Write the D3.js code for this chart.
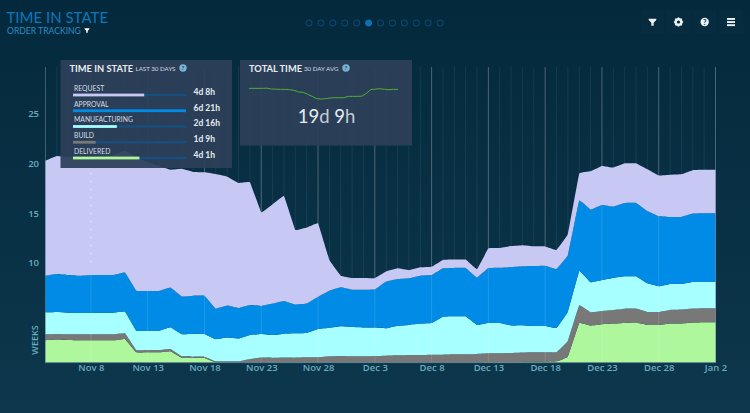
<!DOCTYPE html>
<html>
<meta charset="utf-8">
<title>Time in State</title>
<style>
  html, body { margin: 0; padding: 0; background: #05293c; overflow: hidden; }
  svg { display: block; font-family: Lato, Arial, sans-serif; }
  .axis text { fill: #6aacbf; font-size: 9.5px; font-weight: 600; font-family: "Open Sans", Arial, sans-serif; }
  .axis path, .axis line { display: none; }
</style>
<body>
<svg id="chart" width="750" height="413"></svg>
<script src="https://d3js.org/d3.v7.min.js"></script>
<script>
// values are in weeks, one per day from Nov 4 to Jan 2
var delivered = [2.21,2.28,2.24,2.21,2.21,2.21,2.21,2.35,1.0,1.0,1.0,1.11,0.44,0.44,0.44,0,0,0,0,0,0,0,0,0,0,0,0,0,0,0,0,0,0,0,0,0,0,0,0,0.03,0.03,0.03,0.04,0.05,0.05,0.10,0.57,3.95,3.69,3.82,3.89,3.95,3.99,3.75,3.75,3.89,3.89,3.99,4.02,4.02];
var build = [0.60,0.57,0.57,0.60,0.60,0.60,0.60,0.57,0.23,0.23,0.23,0.23,0.17,0.13,0.13,0.10,0.10,0.10,0.34,0.47,0.44,0.47,0.47,0.50,0.50,0.60,0.64,0.60,0.60,0.64,0.67,0.70,0.74,0.74,0.77,0.77,0.80,0.80,0.84,0.87,0.87,0.90,0.94,0.95,0.95,0.90,1.57,1.78,1.34,1.34,1.37,1.44,1.41,1.31,1.31,1.37,1.41,1.41,1.41,1.41];
var manufacturing = [2.21,2.21,2.18,2.14,2.18,2.18,2.18,2.18,1.94,1.91,1.94,2.18,2.21,2.31,2.28,2.21,2.38,2.28,2.41,2.38,2.31,2.41,2.45,2.45,2.85,2.88,2.98,2.95,2.91,2.85,2.75,2.98,3.02,3.15,3.18,3.82,3.82,3.82,2.91,3.08,3.05,2.78,2.75,2.65,2.65,2.45,2.95,3.45,3.02,3.12,3.22,3.25,3.25,2.88,2.58,2.61,2.58,2.68,2.65,2.65];
var approval = [3.69,3.82,3.79,3.75,3.79,3.79,3.79,3.92,4.02,4.02,3.99,3.99,3.79,3.82,3.85,3.08,3.22,3.08,3.02,2.81,3.15,3.28,2.88,2.95,3.25,3.72,3.92,3.75,3.79,3.82,4.69,4.69,4.69,4.82,4.82,4.86,4.86,4.86,4.76,5.49,5.56,5.86,5.93,6.03,6.06,5.93,5.66,7.07,7.30,7.54,7.17,7.37,7.37,7.27,7.04,6.73,6.73,6.87,6.90,6.90];
var request = [11.57,11.86,11.86,11.93,11.86,11.91,12.06,12.23,13.43,12.96,12.56,11.83,12.83,12.43,12.40,13.53,12.96,12.56,12.33,9.41,9.98,10.55,7.50,7.64,7.37,3.08,1.17,1.17,1.17,1.14,1.01,1.07,0.80,0.84,0.84,0.84,0.84,0.84,0.84,1.98,1.98,2.11,2.11,1.98,1.94,1.91,2.14,2.71,3.85,3.92,3.92,3.99,3.99,4.19,4.09,4.25,4.29,4.36,4.36,4.36];

var stateKeys = ["delivered", "build", "manufacturing", "approval", "request"];
var stateColors = ["#aef79c", "#787878", "#a8ffff", "#008ce6", "#c8c8f5"];

var yTicks = [10, 15, 20, 25];
var xTickLabels = ["Nov 8", "Nov 13", "Nov 18", "Nov 23", "Nov 28", "Dec 3", "Dec 8", "Dec 13", "Dec 18", "Dec 23", "Dec 28", "Jan 2"];

// legend panel
var legendNames = ["REQUEST", "APPROVAL", "MANUFACTURING", "BUILD", "DELIVERED"];
var legendHours = [104, 165, 64, 33, 97];
var legendLabels = ["4d 8h", "6d 21h", "2d 16h", "1d 9h", "4d 1h"];
var legendColors = ["#c8c8f5", "#008ce6", "#a8ffff", "#787878", "#aef79c"];

// total time, days
var totalTime = [21.0,21.0,21.0,21.0,21.04,20.85,20.81,20.78,20.78,20.7,20.55,20.18,20.1,19.65,19.2,18.68,18.6,18.68,18.83,18.9,18.9,18.9,19.2,19.2,19.2,19.24,19.88,20.74,20.81,20.93,20.78,20.7,20.78,20.78];

var pageDots = d3.range(12);
var activeDot = 5;

var svg = d3.select("#chart");

var defs = svg.append("defs");
var bg = defs.append("linearGradient").attr("id", "bg").attr("x1", 0).attr("x2", 0).attr("y1", 0).attr("y2", 1);
bg.append("stop").attr("offset", "0%").attr("stop-color", "#04293c");
bg.append("stop").attr("offset", "100%").attr("stop-color", "#0d374c");
svg.append("rect").attr("width", 750).attr("height", 413).attr("fill", "url(#bg)");

var parseDay = d3.timeParse("%Y %b %-d");
var firstDay = parseDay("2015 Nov 4");
var days = delivered.map(function(d, i) { return d3.timeDay.offset(firstDay, i); });
var tickDays = xTickLabels.map(function(d) {
  return parseDay((d.indexOf("Jan") == 0 ? "2016 " : "2015 ") + d);
});

var x = d3.scaleTime().domain([firstDay, days[days.length - 1]]).range([45.5, 715.5]);
var y = d3.scaleLinear().domain([0, 30]).range([362.3, 63.8]);

var rows = days.map(function(d, i) {
  return {
    day: d,
    delivered: delivered[i],
    build: build[i],
    manufacturing: manufacturing[i],
    approval: approval[i],
    request: request[i]
  };
});

var stack = d3.stack().keys(stateKeys);
var area = d3.area()
    .x(function(d) { return x(d.data.day); })
    .y0(function(d) { return y(d[0]); })
    .y1(function(d) { return y(d[1]); })
    .curve(d3.curveCardinal.tension(0.85));

// grid behind the areas
var grid = svg.append("g");
grid.selectAll("line.minor")
    .data(days)
  .enter().append("line")
    .attr("class", "minor")
    .attr("x1", function(d) { return x(d); })
    .attr("x2", function(d) { return x(d); })
    .attr("y1", 67)
    .attr("y2", 362)
    .attr("stroke", "#fff")
    .attr("stroke-opacity", 0.07);
grid.selectAll("line.major")
    .data(tickDays)
  .enter().append("line")
    .attr("class", "major")
    .attr("x1", function(d) { return x(d); })
    .attr("x2", function(d) { return x(d); })
    .attr("y1", 67)
    .attr("y2", 362)
    .attr("stroke", "#fff")
    .attr("stroke-opacity", 0.22);
grid.append("line")
    .attr("x1", 45.5).attr("x2", 45.5).attr("y1", 67).attr("y2", 362)
    .attr("stroke", "#fff").attr("stroke-opacity", 0.18);

svg.append("g").selectAll("path")
    .data(stack(rows))
  .enter().append("path")
    .attr("d", area)
    .attr("fill", function(d, i) { return stateColors[i]; });

// faint lines over the areas
svg.append("g").selectAll("line")
    .data(tickDays)
  .enter().append("line")
    .attr("x1", function(d) { return x(d); })
    .attr("x2", function(d) { return x(d); })
    .attr("y1", function(d) {
      var i = d3.bisector(function(r) { return r.day; }).left(rows, d);
      return y(delivered[i] + build[i] + manufacturing[i] + approval[i]);
    })
    .attr("y2", 362)
    .attr("stroke", "#fff")
    .attr("stroke-opacity", 0.12);

// dotted line on the first tick, across the request band
svg.append("line")
    .attr("x1", x(tickDays[0])).attr("x2", x(tickDays[0]))
    .attr("y1", y(19)).attr("y2", y(9.4))
    .attr("stroke", "#fff")
    .attr("stroke-width", 0.8)
    .attr("stroke-dasharray", "0.8 7.2");

// baseline
svg.append("line")
    .attr("x1", 45).attr("x2", 716).attr("y1", 362.6).attr("y2", 362.6)
    .attr("stroke", "#7fa3ad").attr("stroke-opacity", 0.7);

// axes
var xAxis = svg.append("g")
    .attr("class", "axis")
    .attr("transform", "translate(0,362)")
    .call(d3.axisBottom(x).tickValues(tickDays).tickFormat(d3.timeFormat("%b %-d")).tickSize(0).tickPadding(2));

var yAxis = svg.append("g")
    .attr("class", "axis")
    .attr("transform", "translate(39,0)")
    .call(d3.axisLeft(y).tickValues(yTicks).tickSize(0).tickPadding(0));

svg.append("text")
    .attr("transform", "translate(38,340) rotate(-90)")
    .attr("text-anchor", "middle")
    .attr("fill", "#6aacbf")
    .attr("font-family", "'Open Sans', Arial, sans-serif")
    .attr("font-size", 9)
    .attr("font-weight", 600)
    .text("WEEKS");

// header
svg.append("text").attr("x", 6.5).attr("y", 22.8)
    .attr("fill", "#0a78bd").attr("font-size", 15)
    .text("TIME IN STATE");
svg.append("text").attr("x", 7).attr("y", 33.5)
    .attr("fill", "#2a8cc4").attr("font-size", 8.6)
    .text("ORDER TRACKING");

function funnel(cx, cy, s, color) {
  svg.append("path")
      .attr("transform", "translate(" + cx + "," + cy + ") scale(" + s + ")")
      .attr("d", "M-4,-3.5 L4,-3.5 L4,-2 L1.2,0.8 L1.2,4 L-1.2,4 L-1.2,0.8 L-4,-2 Z")
      .attr("fill", color);
}
funnel(87, 30.3, 0.62, "#fff");

svg.append("g").selectAll("circle")
    .data(pageDots)
  .enter().append("circle")
    .attr("cx", function(d) { return 309 + d * 11.92; })
    .attr("cy", 23)
    .attr("r", 3.1)
    .attr("fill", function(d) { return d == activeDot ? "#0f6fb0" : "none"; })
    .attr("stroke", function(d) { return d == activeDot ? "#0f6fb0" : "#0c4a78"; })
    .attr("stroke-width", 1);

// toolbar icons
[641, 667, 693, 720].forEach(function(bx) {
  svg.append("rect").attr("x", bx).attr("y", 10).attr("width", 23).attr("height", 23)
      .attr("fill", "#fff").attr("fill-opacity", 0.012);
});
funnel(652.5, 22, 0.95, "#e8f2f5");
svg.append("circle").attr("cx", 678.5).attr("cy", 22).attr("r", 2.9)
    .attr("fill", "none").attr("stroke", "#e8f2f5").attr("stroke-width", 2.2);
svg.selectAll("line.tooth")
    .data([0, 45, 90, 135])
  .enter().append("line")
    .attr("class", "tooth")
    .attr("transform", function(d) { return "translate(678.5,22) rotate(" + d + ")"; })
    .attr("x1", -4.6).attr("x2", 4.6)
    .attr("stroke", "#e8f2f5").attr("stroke-width", 1.6);
svg.append("circle").attr("cx", 678.5).attr("cy", 22).attr("r", 1.6).attr("fill", "#05293c");
svg.append("circle").attr("cx", 704.7).attr("cy", 22).attr("r", 4.2).attr("fill", "#e8f2f5");
svg.append("text").attr("x", 704.7).attr("y", 24.9).attr("text-anchor", "middle")
    .attr("font-size", 7.5).attr("font-weight", 700).attr("fill", "#05293c").text("?");
svg.selectAll("rect.burger")
    .data([0, 1, 2])
  .enter().append("rect")
    .attr("class", "burger")
    .attr("x", 727).attr("y", function(d) { return 18 + d * 3.1; })
    .attr("width", 8).attr("height", 1.9).attr("fill", "#e8f2f5");

function helpDot(cx, cy) {
  svg.append("circle").attr("cx", cx).attr("cy", cy).attr("r", 3.7).attr("fill", "#74b6d4");
  svg.append("text").attr("x", cx).attr("y", cy + 2.3).attr("text-anchor", "middle")
      .attr("font-size", 6).attr("font-weight", 700).attr("fill", "#2d4059").text("?");
}

// time in state panel
svg.append("rect").attr("x", 60.5).attr("y", 60).attr("width", 171.5).attr("height", 108)
    .attr("fill", "#2d4059").attr("fill-opacity", 0.94);
svg.append("text").attr("x", 69.5).attr("y", 71.7)
    .attr("fill", "#e6edf0").attr("font-size", 9.3).attr("font-weight", 700)
    .text("TIME IN STATE");
svg.append("text").attr("x", 135.5).attr("y", 70.5)
    .attr("fill", "#d0dbe2").attr("font-size", 6.2)
    .text("LAST 30 DAYS");
helpDot(183, 68);

var barScale = d3.scaleLinear().domain([0, 165]).range([0, 113]);
var legendY = d3.scalePoint().domain(legendNames).range([95, 158]);

var legend = svg.append("g").selectAll("g")
    .data(legendNames)
  .enter().append("g");
legend.append("rect")
    .attr("x", 73).attr("y", function(d) { return legendY(d) - 1.1; })
    .attr("width", 113).attr("height", 2.2)
    .attr("fill", "#17507e");
legend.append("rect")
    .attr("x", 73).attr("y", function(d) { return legendY(d) - 1.4; })
    .attr("width", function(d, i) { return barScale(legendHours[i]); })
    .attr("height", 2.8)
    .attr("fill", function(d, i) { return legendColors[i]; });
legend.append("text")
    .attr("x", 74).attr("y", function(d) { return legendY(d) - 4.2; })
    .attr("fill", "#d5dfe6").attr("font-size", 6.8)
    .text(function(d) { return d; });
legend.append("text")
    .attr("x", 193.5).attr("y", function(d) { return legendY(d) - 0.1; })
    .attr("fill", "#e6edf0").attr("font-size", 8.5).attr("font-weight", 700)
    .text(function(d, i) { return legendLabels[i]; });

// total time panel
svg.append("rect").attr("x", 240).attr("y", 60).attr("width", 172).attr("height", 85.5)
    .attr("fill", "#2d4059").attr("fill-opacity", 0.94);
svg.append("text").attr("x", 249).attr("y", 71.7)
    .attr("fill", "#e6edf0").attr("font-size", 9.3).attr("font-weight", 700)
    .text("TOTAL TIME");
svg.append("text").attr("x", 304).attr("y", 70.5)
    .attr("fill", "#d0dbe2").attr("font-size", 6.2)
    .text("30 DAY AVG");
helpDot(346, 68);

var sparkX = d3.scaleLinear().domain([0, totalTime.length - 1]).range([249, 398]);
var sparkY = d3.scaleLinear().domain([18, 22]).range([101.7, 83.9]);
svg.append("path")
    .datum(totalTime)
    .attr("d", d3.line()
      .x(function(d, i) { return sparkX(i); })
      .y(function(d) { return sparkY(d); })
      .curve(d3.curveLinear))
    .attr("fill", "none")
    .attr("stroke", "#4fae32")
    .attr("stroke-width", 1);

var big = svg.append("text").attr("x", 326.5).attr("y", 122.7)
    .attr("text-anchor", "middle").attr("font-size", 18.5).attr("fill", "#e6edf0");
big.append("tspan").text("19");
big.append("tspan").attr("fill", "#c2ced6").text("d ");
big.append("tspan").text("9");
big.append("tspan").attr("fill", "#c2ced6").text("h");
</script>
</body>
</html>
